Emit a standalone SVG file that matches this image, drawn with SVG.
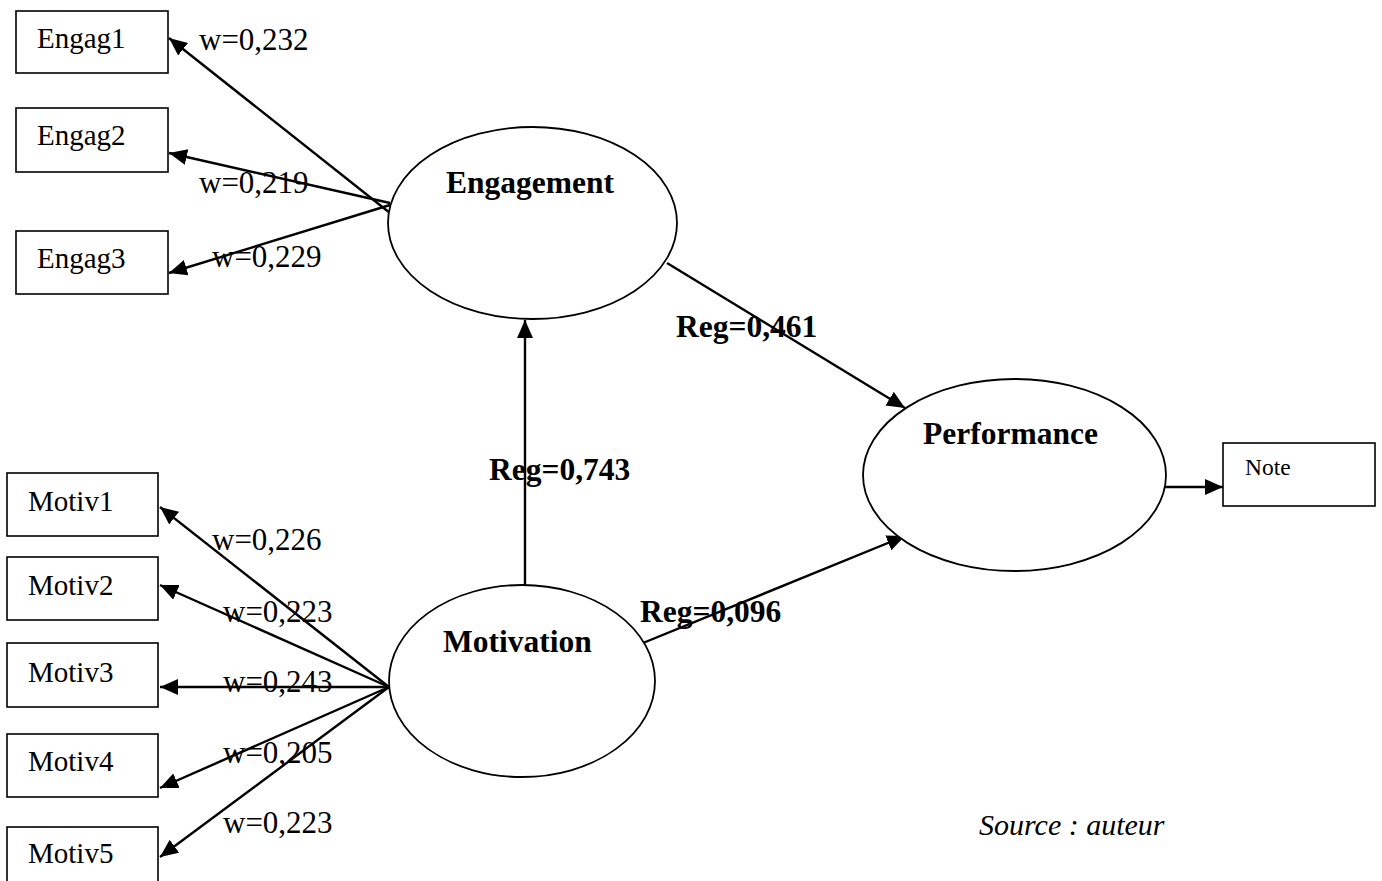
<svg xmlns="http://www.w3.org/2000/svg" width="1382" height="881" viewBox="0 0 1382 881">
<defs>
<style>
.box{fill:#fff;stroke:#000;stroke-width:1.6}
.ell{fill:#fff;stroke:#000;stroke-width:1.8}
.con{stroke:#000;stroke-width:2.4;fill:none}
.arr{marker-end:url(#ah)}
.t{font-family:"Liberation Serif","Times New Roman",serif;fill:#000}
.lbl{font-size:29px}
.w{font-size:31px}
.b{font-size:31.5px;font-weight:bold}
.note{font-size:23.5px}
.src{font-size:30px;font-style:italic}
</style>
<marker id="ah" markerUnits="userSpaceOnUse" markerWidth="20" markerHeight="18" refX="18" refY="8" orient="auto">
<path d="M0,0 L18,8 L0,16 z" fill="#000"/>
</marker>
</defs>
<rect width="1382" height="881" fill="#fff"/>
<g id="connectors">
<line class="con arr" x1="390" y1="213" x2="169" y2="38"/>
<line class="con arr" x1="390" y1="203" x2="169" y2="153"/>
<line class="con arr" x1="390" y1="205" x2="169" y2="273"/>
<line class="con arr" x1="389" y1="687" x2="160" y2="507"/>
<line class="con arr" x1="389" y1="687" x2="160" y2="585"/>
<line class="con arr" x1="389" y1="687" x2="160" y2="687"/>
<line class="con arr" x1="389" y1="687" x2="160" y2="788"/>
<line class="con arr" x1="389" y1="687" x2="160" y2="857"/>
<line class="con arr" x1="525" y1="585" x2="525" y2="320"/>
<line class="con arr" x1="667" y1="263" x2="905" y2="408"/>
<line class="con arr" x1="643" y1="643" x2="905" y2="536"/>
<line class="con arr" x1="1165" y1="487" x2="1223" y2="487"/>
</g>
<g id="engagement">
<ellipse class="ell" cx="532.5" cy="223" rx="144.5" ry="96"/>
<text class="t b" x="446" y="193">Engagement</text>
</g>
<g id="motivation">
<ellipse class="ell" cx="522" cy="681" rx="133" ry="96"/>
<text class="t b" x="443" y="652">Motivation</text>
</g>
<g id="performance">
<ellipse class="ell" cx="1014.5" cy="475" rx="151.5" ry="96"/>
<text class="t b" x="923" y="444">Performance</text>
</g>
<g id="engag1"><rect class="box" x="16" y="11" width="152" height="62"/><text class="t lbl" x="37" y="48">Engag1</text></g>
<g id="engag2"><rect class="box" x="16" y="108" width="152" height="64"/><text class="t lbl" x="37" y="145">Engag2</text></g>
<g id="engag3"><rect class="box" x="16" y="231" width="152" height="63"/><text class="t lbl" x="37" y="268">Engag3</text></g>
<g id="motiv1"><rect class="box" x="7" y="473" width="151" height="63"/><text class="t lbl" x="28" y="511">Motiv1</text></g>
<g id="motiv2"><rect class="box" x="7" y="557" width="151" height="63"/><text class="t lbl" x="28" y="595">Motiv2</text></g>
<g id="motiv3"><rect class="box" x="7" y="643" width="151" height="64"/><text class="t lbl" x="28" y="682">Motiv3</text></g>
<g id="motiv4"><rect class="box" x="7" y="734" width="151" height="63"/><text class="t lbl" x="28" y="771">Motiv4</text></g>
<g id="motiv5"><rect class="box" x="7" y="827" width="151" height="63"/><text class="t lbl" x="28" y="863">Motiv5</text></g>
<g id="note"><rect class="box" x="1223" y="443" width="152" height="63"/><text class="t note" x="1245" y="475">Note</text></g>
<g id="labels">
<text class="t w" x="199" y="50">w=0,232</text>
<text class="t w" x="199" y="193">w=0,219</text>
<text class="t w" x="212" y="267">w=0,229</text>
<text class="t w" x="212" y="550">w=0,226</text>
<text class="t w" x="223" y="622">w=0,223</text>
<text class="t w" x="223" y="692">w=0,243</text>
<text class="t w" x="223" y="763">w=0,205</text>
<text class="t w" x="223" y="833">w=0,223</text>
<text class="t b" x="676" y="337">Reg=0,461</text>
<text class="t b" x="489" y="480">Reg=0,743</text>
<text class="t b" x="640" y="622">Reg=0,096</text>
<text class="t src" x="979" y="835">Source : auteur</text>
</g>
</svg>
